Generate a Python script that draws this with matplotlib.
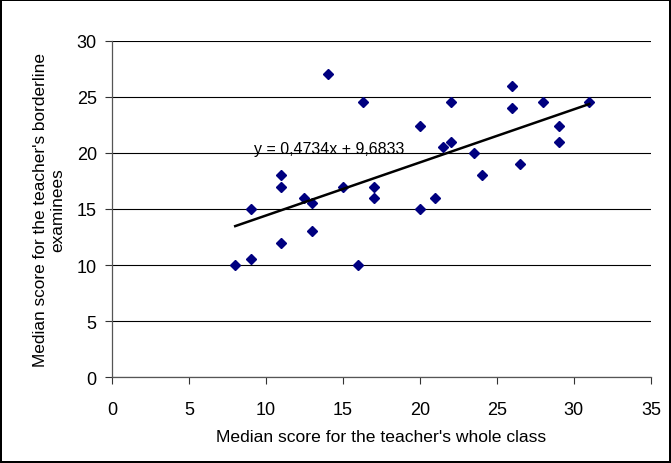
import numpy as np
import matplotlib
matplotlib.use("Agg")
from matplotlib import pyplot as plt

plt.rcParams['font.family'] = ['Liberation Sans', 'DejaVu Sans']

# median score for the teacher's whole class / for the borderline examinees
class_median = [8, 9, 9, 11, 11, 11, 12.5, 13, 13, 14, 15, 16, 16.3, 17, 17,
                20, 20, 21, 21.5, 22, 22, 23.5, 24, 26, 26, 26.5, 28, 29, 29, 31]
border_median = [10, 10.5, 15, 18, 17, 12, 16, 15.5, 13, 27, 17, 10, 24.5, 17, 16,
                 22.4, 15, 16, 20.5, 24.5, 21, 20, 18, 26, 24, 19, 24.5, 22.4, 21, 24.5]

# linear trend line as printed on the chart
slope = 0.4734
intercept = 9.6833
eq_label = "y = 0,4734x + 9,6833"

x_ticks = [0, 5, 10, 15, 20, 25, 30, 35]
y_ticks = [0, 5, 10, 15, 20, 25, 30]

fig = plt.figure(figsize=(6.71, 4.64), dpi=100, edgecolor='black', linewidth=1.5)
ax = fig.add_axes([0.167, 0.185, 0.803, 0.725])

ax.set_axisbelow(True)
ax.grid(axis='y', color='black', linewidth=0.8)
ax.plot(class_median, border_median, linestyle='none', marker='D',
        markersize=4.6, color='#000080', zorder=3)

xs = np.array([min(class_median), max(class_median)])
ax.plot(xs, slope * xs + intercept, color='black', linewidth=1.8, zorder=4)
ax.text(14.1, 20.4, eq_label, fontsize=11.5, ha='center', va='center', zorder=5)

ax.set_xlim(0, 35)
ax.set_ylim(0, 30)
ax.set_xticks(x_ticks)
ax.set_yticks(y_ticks)
for s in ['top', 'right']:
    ax.spines[s].set_visible(False)
for s in ['left', 'bottom']:
    ax.spines[s].set_color('#555555')
    ax.spines[s].set_linewidth(0.9)

ax.tick_params(axis='x', direction='out', length=5, pad=12, labelsize=13, color='#333333')
ax.tick_params(axis='y', direction='out', length=5, pad=6, labelsize=13, color='#333333')

ax.set_xlabel("Median score for the teacher's whole class", fontsize=12.6, labelpad=8)
ax.set_ylabel("Median score for the teacher's borderline\nexaminees", fontsize=12.4,
              labelpad=8, linespacing=1.2)

fig.savefig("out.png", dpi=100)
